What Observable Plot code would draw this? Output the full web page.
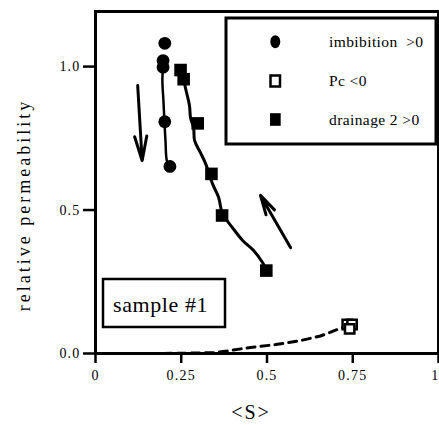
<!DOCTYPE html>
<html><head><meta charset="utf-8">
<script src="https://cdn.jsdelivr.net/npm/d3@7"></script>
<script src="https://cdn.jsdelivr.net/npm/@observablehq/plot@0.6"></script>
<style>body{margin:0;background:#fff}svg{display:block}svg text{font-family:"Liberation Serif","Times New Roman",serif !important}</style>
</head><body><div id="chart"></div>
<script>
// ---- data ----
const xTicks = [0, 0.25, 0.5, 0.75, 1];
const xTickLabels = ["0", "0.25", "0.5", "0.75", "1"];
const yTicks = [0, 0.5, 1.0];
const yTickLabels = ["0.0", "0.5", "1.0"];

// imbibition >0 : filled circles
const imbS  = [0.202, 0.197, 0.197, 0.202, 0.217];
const imbKr = [1.081, 1.021, 0.998, 0.808, 0.652];
// imbibition trend line
const imbLineS  = [0.197, 0.195, 0.198, 0.201, 0.204, 0.208, 0.216];
const imbLineKr = [1.000, 0.951, 0.882, 0.808, 0.742, 0.672, 0.652];

// drainage 2 >0 : filled squares
const drS  = [0.248, 0.257, 0.298, 0.338, 0.369, 0.498];
const drKr = [0.988, 0.956, 0.802, 0.626, 0.481, 0.289];
// drainage trend line
const drLineS  = [0.257, 0.262, 0.274, 0.277, 0.286, 0.289, 0.306, 0.321, 0.341, 0.359, 0.370, 0.399, 0.429, 0.461, 0.487, 0.499];
const drLineKr = [0.956, 0.927, 0.864, 0.822, 0.787, 0.742, 0.700, 0.662, 0.592, 0.544, 0.488, 0.439, 0.394, 0.359, 0.317, 0.289];

// Pc <0 : open squares
const pcS  = [0.734, 0.748, 0.741];
const pcKr = [0.101, 0.101, 0.086];
// Pc <0 dashed line
const pcLineS  = [0.198, 0.350, 0.452, 0.525, 0.598, 0.656, 0.706, 0.729];
const pcLineKr = [0.000, 0.003, 0.021, 0.031, 0.045, 0.061, 0.084, 0.094];

// direction arrows
const arrowS1  = [0.123, 0.569];
const arrowKr1 = [0.934, 0.369];
const arrowS2  = [0.136, 0.481];
const arrowKr2 = [0.672, 0.551];

const legendLabels = ["imbibition  >0", "Pc <0", "drainage 2 >0"];
const sampleLabel = "sample #1";
const xLabel = "<S>";
const yLabel = "relative permeability";

// ---- build tables ----
const zip = (xs, ys) => xs.map((x, i) => ({x, y: ys[i]}));
const imb = zip(imbS, imbKr), imbLine = zip(imbLineS, imbLineKr);
const dr = zip(drS, drKr), drLine = zip(drLineS, drLineKr);
const pc = zip(pcS, pcKr), pcLine = zip(pcLineS, pcLineKr);
const arrows = arrowS1.map((s, i) => ({x1: s, y1: arrowKr1[i], x2: arrowS2[i], y2: arrowKr2[i]}));
const lastX = xTicks[xTicks.length - 1];

const serif = "Liberation Serif, Times New Roman, serif";

const chart = Plot.plot({
  width: 439, height: 425,
  marginLeft: 95, marginRight: 1, marginTop: 11, marginBottom: 72,
  style: {fontFamily: serif, background: "white", color: "black", overflow: "visible"},
  x: {domain: [0, 1]},
  y: {domain: [0, 1.192]},
  marks: [
    Plot.axisX({ticks: xTicks, tickFormat: d => d === lastX ? "" : xTickLabels[xTicks.indexOf(d)], tickSize: 10, tickPadding: 7,
      strokeWidth: 2.5, fontSize: 14, label: null, stroke: "black", fill: "black"}),
    Plot.axisX({ticks: [lastX], tickFormat: d => xTickLabels[xTicks.indexOf(d)], tickSize: 0, tickPadding: 17,
      textAnchor: "end", dx: 1, fontSize: 14, label: null, fill: "black"}),
    Plot.axisY({ticks: yTicks, tickFormat: d => yTickLabels[yTicks.indexOf(d)], tickSize: 12, tickPadding: 3,
      strokeWidth: 2.5, fontSize: 14, label: null, stroke: "black", fill: "black"}),
    Plot.line(pcLine, {x: "x", y: "y", stroke: "black", strokeWidth: 3, strokeDasharray: "8,6"}),
    Plot.line(imbLine, {x: "x", y: "y", stroke: "black", strokeWidth: 2.5, curve: "catmull-rom"}),
    Plot.line(drLine, {x: "x", y: "y", stroke: "black", strokeWidth: 3, curve: "catmull-rom"}),
    Plot.dot(imb, {x: "x", y: "y", r: 6.4, fill: "black"}),
    Plot.dot(dr, {x: "x", y: "y", r: 7.1, symbol: "square", fill: "black"}),
    Plot.dot(pc, {x: "x", y: "y", r: 5.3, symbol: "square", fill: "white", stroke: "black", strokeWidth: 2.5}),
    Plot.arrow(arrows, {x1: "x1", y1: "y1", x2: "x2", y2: "y2", stroke: "black", strokeWidth: 3, headLength: 14, headAngle: 28}),
    Plot.frame({stroke: "black", strokeWidth: 3})
  ]
});
document.getElementById("chart").appendChild(chart);

const svg = d3.select(chart);
svg.selectAll("text").attr("letter-spacing", "1.2");

// axis titles
svg.append("text").text(yLabel)
  .attr("transform", "translate(30,205) rotate(-90)")
  .attr("text-anchor", "middle").attr("font-size", 18)
  .attr("letter-spacing", "3").attr("fill", "black");
svg.append("text").text(xLabel)
  .attr("x", 251).attr("y", 419)
  .attr("text-anchor", "middle").attr("font-size", 20)
  .attr("letter-spacing", "2").attr("fill", "black");

// legend
const lg = svg.append("g");
lg.append("rect").attr("x", 226).attr("y", 18).attr("width", 210).attr("height", 126)
  .attr("fill", "white").attr("stroke", "black").attr("stroke-width", 3);
const rows = [41.7, 81, 119.5];
lg.append("ellipse").attr("cx", 275.3).attr("cy", rows[0]).attr("rx", 5).attr("ry", 6.5).attr("fill", "black");
lg.append("rect").attr("x", 270.5).attr("y", rows[1] - 5.5).attr("width", 9.5).attr("height", 11)
  .attr("fill", "white").attr("stroke", "black").attr("stroke-width", 2.5);
lg.append("rect").attr("x", 270).attr("y", rows[2] - 6.3).attr("width", 10.7).attr("height", 12.6).attr("fill", "black");
legendLabels.forEach((t, i) => {
  lg.append("text").text(t).attr("x", 329).attr("y", rows[i] + 5)
    .attr("text-anchor", "start").attr("font-size", 15.5).attr("letter-spacing", "0.4")
    .style("white-space", "pre").attr("fill", "black");
});

// sample box
const sb = svg.append("g");
sb.append("rect").attr("x", 103).attr("y", 279).attr("width", 122).attr("height", 48)
  .attr("fill", "white").attr("stroke", "black").attr("stroke-width", 2.5);
sb.append("text").text(sampleLabel).attr("x", 113).attr("y", 312)
  .attr("text-anchor", "start").attr("font-size", 22).attr("letter-spacing", "0.6").attr("fill", "black");
</script>
</body></html>
